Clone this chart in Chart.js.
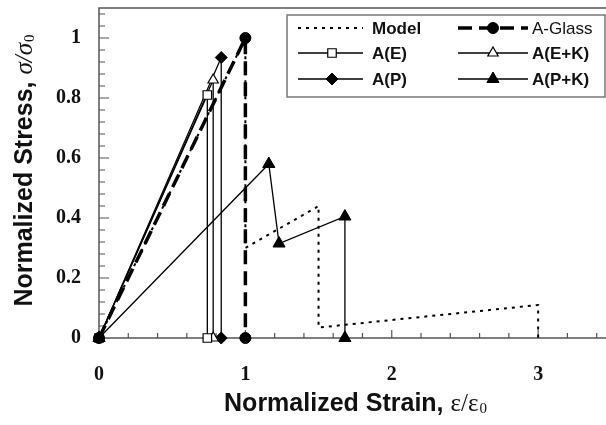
<!DOCTYPE html>
<html>
<head>
<meta charset="utf-8">
<script src="https://cdn.jsdelivr.net/npm/chart.js@4.4.0/dist/chart.umd.min.js"></script>
<style>
    html, body { margin: 0; padding: 0; background: #fff; overflow: hidden; }
    #wrap { width: 612px; height: 425px; }
</style>
</head>
<body>
<div id="wrap"><canvas id="grafico-tensao" width="612" height="425"></canvas></div>
<script>
// Dados - deformação normalizada (x) e tensão normalizada (y)
const modelX = [0, 1, 1, 1.5, 1.5, 3, 3]
const modelY = [0, 1, 0.3, 0.44, 0.035, 0.11, 0]
const glassX = [0, 1, 1]
const glassY = [0, 1, 0]
const aeX = [0, 0.74, 0.74]
const aeY = [0, 0.81, 0]
const aekX = [0, 0.78, 0.78]
const aekY = [0, 0.86, 0]
const apX = [0, 0.835, 0.835]
const apY = [0, 0.935, 0]
const apkX = [0, 1.16, 1.23, 1.68, 1.68]
const apkY = [0, 0.58, 0.315, 0.405, 0]

const xTicks = [0, 1, 2, 3]
const yTicks = [0, 0.2, 0.4, 0.6, 0.8, 1]

const pontos = (xs, ys) => xs.map((x, i) => ({ x: x, y: ys[i] }))

const serifBold = { family: "'Liberation Serif', 'Times New Roman', serif", weight: 'bold', size: 20 }

// Moldura, marcas dos eixos, títulos e legenda desenhados à mão
const decoracao = {
    id: 'decoracao',
    beforeDatasetsDraw(chart) {
        const ctx = chart.ctx
        const a = chart.chartArea
        const sx = chart.scales.x
        const sy = chart.scales.y
        ctx.save()
        ctx.strokeStyle = '#555'
        ctx.lineWidth = 1.5
        ctx.beginPath()
        ctx.moveTo(a.right + 10, a.top)
        ctx.lineTo(a.left, a.top)
        ctx.lineTo(a.left, a.bottom)
        ctx.lineTo(a.right + 10, a.bottom)
        ctx.stroke()

        ctx.lineWidth = 1.2
        ctx.beginPath()
        for (let k = 1; k <= 27; k++) {
            const py = sy.getPixelForValue(k * 0.04)
            const len = k % 5 === 0 ? 10 : 6
            ctx.moveTo(a.left, py)
            ctx.lineTo(a.left + len, py)
        }
        for (let k = 1; k <= 17; k++) {
            const px = sx.getPixelForValue(k * 0.2)
            const len = k % 5 === 0 ? 8 : 5
            ctx.moveTo(px, a.bottom)
            ctx.lineTo(px, a.bottom - len)
        }
        ctx.stroke()
        ctx.restore()
    },
    afterDraw(chart) {
        const ctx = chart.ctx
        const a = chart.chartArea
        ctx.save()
        ctx.fillStyle = '#111'
        ctx.textBaseline = 'alphabetic'

        // títulos dos eixos (parte em sans negrito, parte em serif)
        const sans = "bold 25px 'Liberation Sans', Arial, sans-serif"
        const sub = "15px 'Liberation Serif', 'Times New Roman', serif"
        const partes = (t1, t2, serif) => {
            ctx.font = sans
            const w1 = ctx.measureText(t1).width
            ctx.font = serif
            const w2 = ctx.measureText(t2).width
            ctx.font = sub
            const w3 = ctx.measureText('0').width
            return [w1, w2, w3]
        }
        const escreve = (t1, t2, serif, x, y) => {
            const [w1, w2] = partes(t1, t2, serif)
            ctx.font = sans
            ctx.fillText(t1, x, y)
            ctx.font = serif
            ctx.fillText(t2, x + w1, y)
            ctx.font = sub
            ctx.fillText('0', x + w1 + w2 + 1, y + 2)
        }
        let t1 = 'Normalized Strain, '
        let t2 = 'ε/ε'
        let serifX = "25px 'Liberation Serif', 'Times New Roman', serif"
        let w = partes(t1, t2, serifX)
        let total = w[0] + w[1] + w[2]
        escreve(t1, t2, serifX, 355 - total / 2, 411)

        t1 = 'Normalized Stress, '
        t2 = 'σ/σ'
        let serifY = "italic 25px 'Liberation Serif', 'Times New Roman', serif"
        w = partes(t1, t2, serifY)
        total = w[0] + w[1] + w[2]
        ctx.save()
        ctx.translate(32, 171)
        ctx.rotate(-Math.PI / 2)
        escreve(t1, t2, serifY, -total / 2, 0)
        ctx.restore()

        // legenda
        ctx.strokeStyle = '#777'
        ctx.lineWidth = 1.5
        ctx.strokeRect(287, 15, 318, 82)
        const linhas = [28, 53, 79]
        const colunas = [
            { x1: 298, x2: 363, m: 332, t: 372 },
            { x1: 458, x2: 528, m: 493, t: 532 }
        ]
        chart.data.datasets.forEach((ds, i) => {
            const c = colunas[i % 2]
            const y = linhas[Math.floor(i / 2)]
            ctx.save()
            ctx.strokeStyle = '#000'
            ctx.lineWidth = ds.borderWidth
            ctx.setLineDash(ds.borderDash || [])
            ctx.beginPath()
            ctx.moveTo(c.x1, y)
            ctx.lineTo(c.x2, y)
            ctx.stroke()
            ctx.setLineDash([])
            if (ds.pointRadius > 0) {
                ctx.fillStyle = ds.pointBackgroundColor
                ctx.strokeStyle = '#000'
                ctx.lineWidth = ds.pointBorderWidth
                Chart.helpers.drawPoint(ctx, {
                    pointStyle: ds.pointStyle,
                    radius: ds.pointRadius,
                    rotation: 0,
                    borderWidth: ds.pointBorderWidth
                }, c.m, y)
            }
            ctx.restore()
            ctx.fillStyle = '#111'
            ctx.textBaseline = 'middle'
            ctx.font = (ds.label === 'A-Glass' ? '' : 'bold ') + "17px 'Liberation Sans', Arial, sans-serif"
            ctx.fillText(ds.label, c.t, y + 1)
        })
        ctx.restore()
    }
}

const serieBase = {
    showLine: true,
    fill: false,
    tension: 0,
    clip: false,
    borderColor: '#000',
    pointBorderColor: '#000'
}

let myChartTensao = new Chart(
    document.getElementById('grafico-tensao'),
    {
        type: 'scatter',
        data: {
            datasets: [
                {
                    ...serieBase,
                    label: 'Model',
                    data: pontos(modelX, modelY),
                    borderWidth: 2,
                    borderDash: [3, 5],
                    pointRadius: 0
                },
                {
                    ...serieBase,
                    label: 'A-Glass',
                    data: pontos(glassX, glassY),
                    borderWidth: 3.5,
                    borderDash: [14, 7],
                    pointStyle: 'circle',
                    pointRadius: 5.5,
                    pointBackgroundColor: '#000',
                    pointBorderWidth: 1
                },
                {
                    ...serieBase,
                    label: 'A(E)',
                    data: pontos(aeX, aeY),
                    borderWidth: 1.3,
                    pointStyle: 'rect',
                    pointRadius: 6,
                    pointBackgroundColor: '#fff',
                    pointBorderWidth: 1.2
                },
                {
                    ...serieBase,
                    label: 'A(E+K)',
                    data: pontos(aekX, aekY),
                    borderWidth: 1.3,
                    pointStyle: 'triangle',
                    pointRadius: 6,
                    pointBackgroundColor: '#fff',
                    pointBorderWidth: 1.2
                },
                {
                    ...serieBase,
                    label: 'A(P)',
                    data: pontos(apX, apY),
                    borderWidth: 1.3,
                    pointStyle: 'rectRot',
                    pointRadius: 6,
                    pointBackgroundColor: '#000',
                    pointBorderWidth: 1
                },
                {
                    ...serieBase,
                    label: 'A(P+K)',
                    data: pontos(apkX, apkY),
                    borderWidth: 1.3,
                    pointStyle: 'triangle',
                    pointRadius: 7,
                    pointBackgroundColor: '#000',
                    pointBorderWidth: 1
                }
            ]
        },
        options: {
            responsive: false,
            animation: false,
            devicePixelRatio: 1,
            layout: { padding: { top: 8, right: 2, left: 0, bottom: 0 } },
            plugins: {
                legend: { display: false },
                tooltip: { enabled: false }
            },
            scales: {
                x: {
                    type: 'linear',
                    min: 0,
                    max: 3.45,
                    grid: { display: false },
                    border: { display: false },
                    afterBuildTicks: s => { s.ticks = xTicks.map(v => ({ value: v })) },
                    afterFit: s => {
                        s.height = 87
                        s.paddingLeft = 0
                        s.paddingRight = 0
                    },
                    ticks: {
                        padding: 17,
                        color: '#111',
                        font: serifBold,
                        maxRotation: 0,
                        callback: v => String(v)
                    }
                },
                y: {
                    type: 'linear',
                    min: 0,
                    max: 1.1,
                    grid: { display: false },
                    border: { display: false },
                    afterBuildTicks: s => { s.ticks = yTicks.map(v => ({ value: v })) },
                    afterFit: s => {
                        s.width = 99
                        s.paddingTop = 0
                        s.paddingBottom = 0
                    },
                    ticks: {
                        padding: 10,
                        color: '#111',
                        font: serifBold,
                        callback: v => String(Math.round(v * 10) / 10)
                    }
                }
            }
        },
        plugins: [decoracao]
    }
)
</script>
</body>
</html>
